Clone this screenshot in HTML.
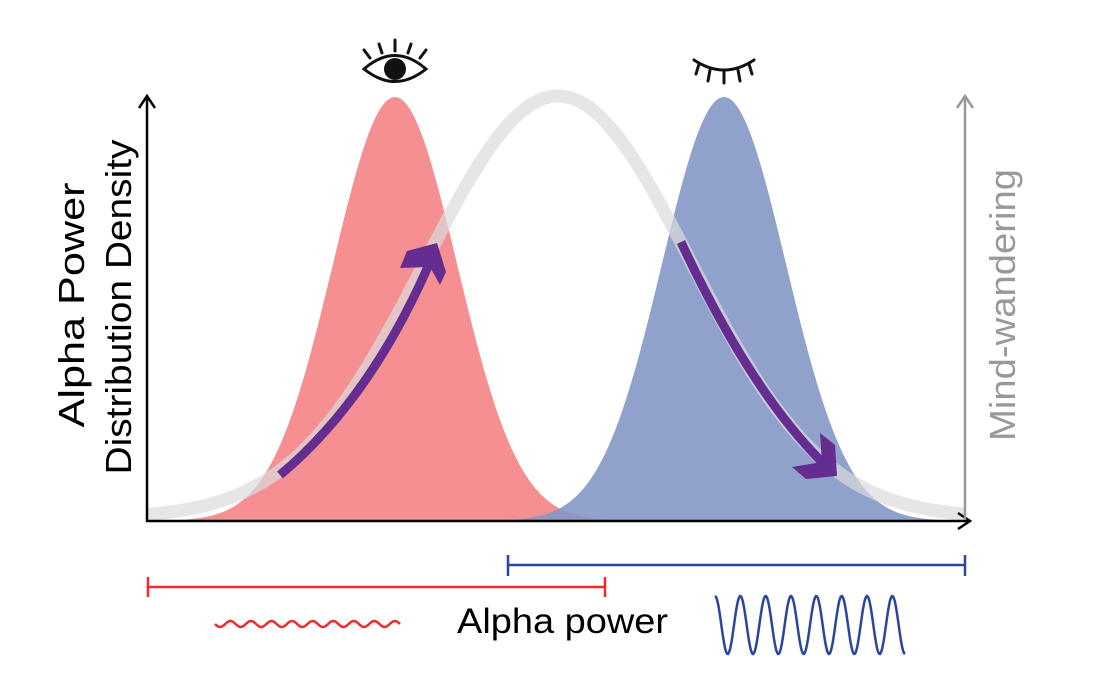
<!DOCTYPE html>
<html><head><meta charset="utf-8"><style>
html,body{margin:0;padding:0;background:#fff;}
svg{display:block;}
text{font-family:"Liberation Sans",Arial,sans-serif;}
</style></head><body>
<svg id="s" width="1114" height="682" viewBox="0 0 1114 682" xmlns="http://www.w3.org/2000/svg">
<path id="red" fill="#f68f92"/>
<path id="blue" fill="#8497c6" fill-opacity="0.9"/>
<path id="gray" fill="none" stroke="#dcdcdc" stroke-opacity="0.7" stroke-width="13"/>
<!-- arrows -->
<path d="M280,475 Q370,400 430,262" fill="none" stroke="#662d91" stroke-width="9"/>
<polygon points="407,251 437,243 446,272 440,285 430,267 400,268" fill="#662d91"/>
<path d="M681,242 Q750,390 822,462" fill="none" stroke="#662d91" stroke-width="9"/>
<polygon points="820,433 835,445 837,476 806,479 792,467 822,462" fill="#662d91"/>
<!-- axes -->
<line x1="147" y1="522" x2="147" y2="98" stroke="#000" stroke-width="2.5"/>
<polyline points="139,108 147,96 155,108" fill="none" stroke="#000" stroke-width="2.5"/>
<line x1="146" y1="521" x2="968" y2="521" stroke="#000" stroke-width="2.5"/>
<polyline points="958,513 970,521 958,529" fill="none" stroke="#000" stroke-width="2.5"/>
<line x1="965" y1="520" x2="965" y2="98" stroke="#999" stroke-width="2.5"/>
<polyline points="957,108 965,96 973,108" fill="none" stroke="#999" stroke-width="2.5"/>
<!-- axis labels -->
<text transform="translate(84,305) rotate(-90)" text-anchor="middle" font-size="36" textLength="245" lengthAdjust="spacingAndGlyphs">Alpha Power</text>
<text transform="translate(131,307) rotate(-90)" text-anchor="middle" font-size="36" textLength="335" lengthAdjust="spacingAndGlyphs">Distribution Density</text>
<text transform="translate(1015,305) rotate(-90)" text-anchor="middle" font-size="36" fill="#999" textLength="272" lengthAdjust="spacingAndGlyphs">Mind-wandering</text>
<!-- open eye -->
<g stroke="#111" stroke-width="3" fill="none" stroke-linecap="round">
<path d="M364,69 Q395,42 426,69 Q395,94 364,69 Z" fill="#fff"/>
<line x1="370" y1="58" x2="364" y2="50"/><line x1="382" y1="53" x2="379" y2="44"/>
<line x1="395" y1="51" x2="395" y2="40"/><line x1="408" y1="53" x2="411" y2="44"/>
<line x1="420" y1="58" x2="426" y2="50"/>
</g>
<circle cx="395" cy="69" r="11" fill="#111"/>
<!-- closed eye -->
<g stroke="#111" stroke-width="3" fill="none" stroke-linecap="round">
<path d="M694,60 Q724,80 754,60"/>
<line x1="699" y1="64" x2="696" y2="74"/><line x1="710" y1="70" x2="708" y2="81"/>
<line x1="724" y1="72" x2="724" y2="83"/><line x1="738" y1="70" x2="740" y2="81"/>
<line x1="749" y1="64" x2="752" y2="74"/>
</g>
<!-- range bars -->
<g stroke="#2a44a0" stroke-width="2.5"><line x1="508" y1="565" x2="965" y2="565"/><line x1="508" y1="555" x2="508" y2="576"/><line x1="965" y1="555" x2="965" y2="576"/></g>
<g stroke="#ee2a2e" stroke-width="2.5"><line x1="148" y1="587" x2="605" y2="587"/><line x1="148" y1="577" x2="148" y2="597"/><line x1="605" y1="577" x2="605" y2="597"/></g>
<path id="rw" fill="none" stroke="#ee2a2e" stroke-width="2.5"/>
<path id="bw" fill="none" stroke="#2a44a0" stroke-width="2.5"/>
<text x="457" y="633" font-size="35" textLength="211" lengthAdjust="spacingAndGlyphs">Alpha power</text>
</svg>
<script>
function g(c,s,top,base){return x=>base-(base-top)*Math.exp(-(x-c)*(x-c)/(2*s*s));}
function fill(f,x0,x1,base){let d="M"+x0+","+base;for(let x=x0;x<=x1;x+=2)d+=" L"+x+","+f(x).toFixed(1);return d+" L"+x1+","+base+" Z";}
function line(f,x0,x1){let d="";for(let x=x0;x<=x1;x+=2)d+=(d?" L":"M")+x+","+f(x).toFixed(1);return d;}
document.getElementById("red").setAttribute("d",fill(g(395,62,97,521),148,700,521));
document.getElementById("blue").setAttribute("d",fill(g(724,62,97,521),400,964,521));
document.getElementById("gray").setAttribute("d",line(g(558,133,96,518),148,964));
let rw="";for(let x=215;x<=400;x++)rw+=(rw?" L":"M")+x+","+(624+3*Math.sin((x-215)/185*9*2*Math.PI)).toFixed(1);
document.getElementById("rw").setAttribute("d",rw);
let bw="";for(let x=715;x<=905;x++)bw+=(bw?" L":"M")+x+","+(625-29*Math.cos((x-715)/190*7.5*2*Math.PI)).toFixed(1);
document.getElementById("bw").setAttribute("d",bw);
</script>
</body></html>
